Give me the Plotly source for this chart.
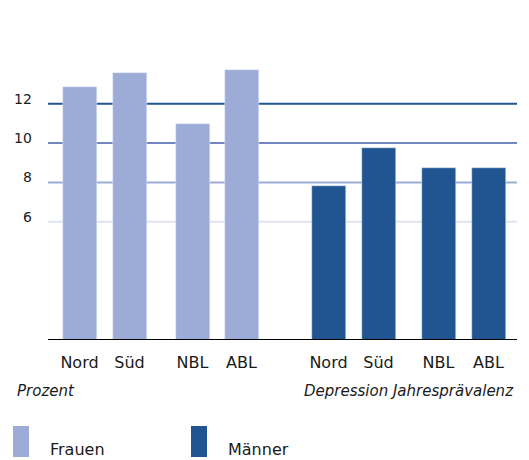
import plotly.graph_objects as go

categories = ["Nord", "Süd", "NBL", "ABL"]
frauen = [12.85, 13.55, 10.95, 13.7]
maenner = [7.8, 9.75, 8.75, 8.75]
y_ticks = [6, 8, 10, 12]
y_tick_labels = ["6", "8", "10", "12"]

# layout: x positions of the bar groups
pos_f = [0, 1, 2.26, 3.24]
pos_m = [4.98, 5.98, 7.18, 8.18]

C_F = "#9dabd7"
C_M = "#215592"
FONT = "DejaVu Sans"
TXT = "#1a1a1a"

W, H = 521, 452
L, R, T, B = 40, 12, 46, 120
PW, PH = W - L - R, H - T - B


def px(fx):
    return (fx - L) / PW


def py(fy):
    return (H - B - fy) / PH


fig = go.Figure()
fig.add_trace(go.Bar(x=pos_f, y=frauen, marker_color=C_F, width=0.68, name="Frauen", showlegend=False))
fig.add_trace(go.Bar(x=pos_m, y=maenner, marker_color=C_M, width=0.68, name="Männer", showlegend=False))

grid_colors = {6: "#dfe3f3", 8: "#9dabd7", 10: "#7287c0", 12: "#215592"}
for v, lab in zip(y_ticks, y_tick_labels):
    fig.add_shape(type="line", xref="paper", yref="y", x0=0, x1=1, y0=v, y1=v,
                  line=dict(color=grid_colors[v], width=2), layer="below")
    fig.add_annotation(text=lab, xref="paper", yref="y", x=px(26), y=v, yshift=5,
                       xanchor="right", yanchor="middle", showarrow=False,
                       font=dict(size=14, color=TXT))
fig.add_shape(type="line", xref="paper", yref="y", x0=0, x1=1, y0=0, y1=0,
              line=dict(color="black", width=2), layer="above")

fig.update_layout(
    width=W, height=H,
    margin=dict(l=L, r=R, t=T, b=B),
    plot_bgcolor="white", paper_bgcolor="white",
    font=dict(family=FONT, size=15, color=TXT),
    bargap=0,
    xaxis=dict(range=[-0.63, 8.75], tickvals=pos_f + pos_m, ticktext=categories + categories,
               showgrid=False, zeroline=False, showline=False, ticks="",
               tickfont=dict(size=16), ticklabelstandoff=11, fixedrange=True),
    yaxis=dict(range=[0, 14.52], showticklabels=False,
               showgrid=False, zeroline=False, showline=False, ticks="", fixedrange=True),
)

fig.add_annotation(text="<i>Prozent</i>", xref="paper", yref="paper", x=px(7), y=py(383),
                   xanchor="left", yanchor="middle", showarrow=False, font=dict(size=15))
fig.add_annotation(text="<i>Depression Jahresprävalenz</i>", xref="paper", yref="paper", x=px(508), y=py(383),
                   xanchor="right", yanchor="middle", showarrow=False, font=dict(size=15))

# legend
for fx, tx, label, col in [(5, 40, "Frauen", C_F), (183, 218, "Männer", C_M)]:
    fig.add_shape(type="rect", xref="paper", yref="paper",
                  x0=px(fx), x1=px(fx + 16), y0=py(449), y1=py(418),
                  fillcolor=col, line=dict(width=0))
    fig.add_annotation(text=label, xref="paper", yref="paper", x=px(tx),
                       y=py(441), xanchor="left", yanchor="middle",
                       showarrow=False, font=dict(size=16))

fig.write_html("out.html")
